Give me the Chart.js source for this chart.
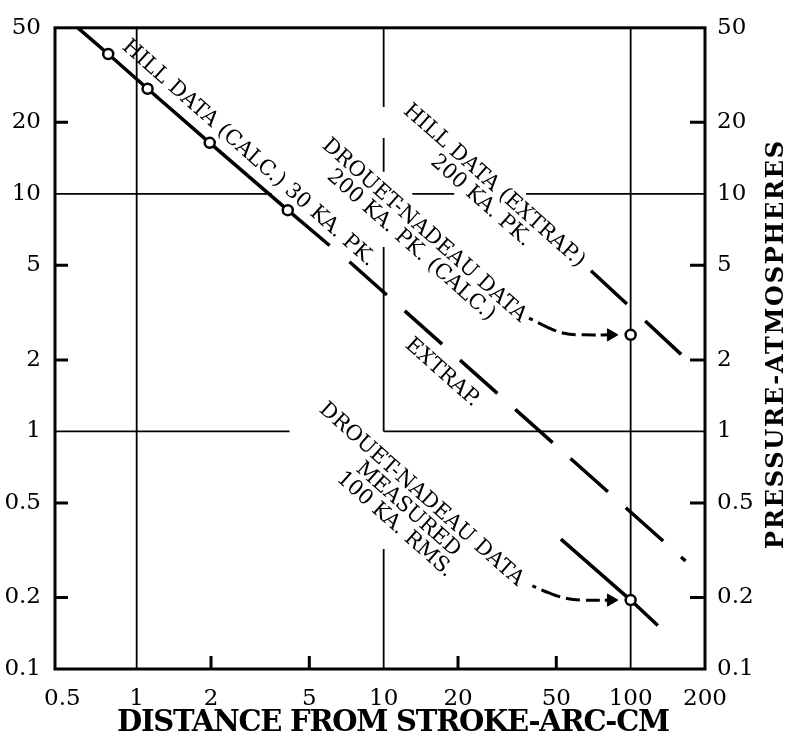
<!DOCTYPE html>
<html><head><meta charset="utf-8">
<script src="https://cdn.jsdelivr.net/npm/chart.js@4/dist/chart.umd.min.js"></script>
<style>html,body{margin:0;padding:0;background:#fff;}canvas{display:block;}</style>
</head><body>
<canvas id="c" width="788" height="743"></canvas>
<script>
// ---- axes / tick labels ----
const xTicks = [0.5, 1, 2, 5, 10, 20, 50, 100, 200];
const yTicks = [0.1, 0.2, 0.5, 1, 2, 5, 10, 20, 50];
const xTickMarks = [2, 5, 20, 50];
const yTickMarks = [0.2, 0.5, 2, 5, 20];

// ---- series ----
const hillCalcX = [0.578, 0.767, 1.107, 1.976, 4.09, 6.04];
const hillCalcY = [50, 38.8, 27.7, 16.4, 8.54, 6.06];
const hillCalcExtrapX = [7.27, 166.8];
const hillCalcExtrapY = [5.18, 0.285];
const hill200X = [69.1, 160.9];
const hill200Y = [4.75, 2.10];
const drouetMeasX = [52.2, 100, 128.8];
const drouetMeasY = [0.352, 0.195, 0.1525];
const drouetCalcX = [100];
const drouetCalcY = [2.55];
const arrowUpX = [38.8, 45.9, 53.7, 64.7, 83.2];
const arrowUpY = [3.0, 2.75, 2.59, 2.55, 2.55];
const arrowLowX = [40.0, 46.7, 55.2, 64.7, 83.2];
const arrowLowY = [0.224, 0.209, 0.198, 0.195, 0.195];

// ---- partial grid lines ----
const vGridX  = [1, 100, 10, 10, 10, 10];
const vGridY1 = [0.1, 0.1, 50, 17.2, 5.98, 0.32];
const vGridY2 = [50, 50, 23.2, 12.4, 1, 0.1];
const hGridY  = [10, 10, 10, 1, 1];
const hGridX1 = [0.467, 13.06, 37.7, 0.467, 10];
const hGridX2 = [3.52, 19.3, 200, 4.16, 200];

// ---- annotations ----
const noteText = [
  ['HILL DATA (CALC.) 30 KA. PK.'],
  ['HILL DATA (EXTRAP.)', '200 KA. PK.'],
  ['DROUET-NADEAU DATA', '200 KA. PK. (CALC.)'],
  ['EXTRAP.'],
  ['DROUET-NADEAU DATA', 'MEASURED', '100 KA. RMS.']
];
const noteX = [2.84, 28.0, 14.6, 17.27, 14.2];
const noteY = [14.8, 10.8, 7.01, 1.767, 0.542];

const xTitle = 'DISTANCE FROM STROKE-ARC-CM';
const yTitle = 'PRESSURE-ATMOSPHERES';

const pts = (xs, ys) => xs.map((v, i) => ({x: v, y: ys[i]}));
const FONT = '"DejaVu Serif", "Liberation Serif", serif';

const datasets = [];
datasets.push({data: pts(hillCalcX, hillCalcY), showLine: true, borderColor: '#000', borderWidth: 3.5,
  pointRadius: [0, 5, 5, 5, 5, 0], pointBackgroundColor: '#fff', pointBorderColor: '#000', pointBorderWidth: 2.5, order: 1});
datasets.push({data: pts(hillCalcExtrapX, hillCalcExtrapY), showLine: true, borderColor: '#000', borderWidth: 3.5,
  borderDash: [50, 24], pointRadius: 0, order: 2});
datasets.push({data: pts(hill200X, hill200Y), showLine: true, borderColor: '#000', borderWidth: 3.5,
  borderDash: [49, 25], pointRadius: 0, order: 2});
datasets.push({data: pts(drouetMeasX, drouetMeasY), showLine: true, borderColor: '#000', borderWidth: 3.5,
  pointRadius: [0, 5, 0], pointBackgroundColor: '#fff', pointBorderColor: '#000', pointBorderWidth: 2.5, order: 1});
datasets.push({data: pts(drouetCalcX, drouetCalcY), showLine: false,
  pointRadius: 5, pointBackgroundColor: '#fff', pointBorderColor: '#000', pointBorderWidth: 2.5, order: 0});
[[arrowUpX, arrowUpY], [arrowLowX, arrowLowY]].forEach(([xs, ys]) => {
  datasets.push({data: pts(xs, ys), showLine: true, borderColor: '#000', borderWidth: 3, tension: 0.4,
    borderDash: [4, 6, 20, 6, 14, 6, 14, 5, 60], pointRadius: [0, 0, 0, 0, 7], pointStyle: 'triangle',
    pointRotation: 90, pointBackgroundColor: '#000', pointBorderColor: '#000', pointBorderWidth: 1, order: 1});
});
vGridX.forEach((gx, i) => datasets.push({data: [{x: gx, y: vGridY1[i]}, {x: gx, y: vGridY2[i]}], showLine: true,
  borderColor: '#000', borderWidth: 1.8, pointRadius: 0, order: 10}));
hGridY.forEach((gy, i) => datasets.push({data: [{x: hGridX1[i], y: gy}, {x: hGridX2[i], y: gy}], showLine: true,
  borderColor: '#000', borderWidth: 1.8, pointRadius: 0, order: 10}));

const setTicks = vals => s => { s.ticks = vals.map(v => ({value: v})); };
const tickFont = {family: FONT, size: 23};

const framePlugin = {
  id: 'frame',
  afterDatasetsDraw(chart) {
    const {ctx, chartArea: a, scales} = chart;
    ctx.save();
    ctx.strokeStyle = '#000';
    ctx.lineWidth = 3;
    ctx.strokeRect(a.left, a.top, a.right - a.left, a.bottom - a.top);
    ctx.beginPath();
    yTickMarks.forEach(v => {
      const py = scales.y.getPixelForValue(v);
      ctx.moveTo(a.left, py); ctx.lineTo(a.left + 13, py);
      ctx.moveTo(a.right, py); ctx.lineTo(a.right - 15, py);
    });
    xTickMarks.forEach(v => {
      const px = scales.x.getPixelForValue(v);
      ctx.moveTo(px, a.bottom); ctx.lineTo(px, a.bottom - 13);
    });
    ctx.stroke();
    ctx.restore();
  }
};

function fitText(ctx, text, target) {
  ctx.letterSpacing = '0px';
  const w = ctx.measureText(text).width;
  const n = text.length - 1;
  if ('letterSpacing' in ctx && n > 0) ctx.letterSpacing = ((target - w) / n).toFixed(2) + 'px';
}

const annoPlugin = {
  id: 'anno',
  afterDraw(chart) {
    const {ctx, scales: {x, y}} = chart;
    ctx.save();
    ctx.fillStyle = '#000';
    ctx.textAlign = 'center';
    ctx.textBaseline = 'middle';
    ctx.font = '21px ' + FONT;
    noteText.forEach((lines, k) => {
      const px = x.getPixelForValue(noteX[k]), py = y.getPixelForValue(noteY[k]);
      ctx.save();
      ctx.translate(px, py);
      ctx.rotate(41.5 * Math.PI / 180);
      lines.forEach((t, i) => ctx.fillText(t, 0, i * 20));
      ctx.restore();
    });
    // axis titles
    ctx.font = 'bold 29px ' + FONT;
    fitText(ctx, xTitle, 553);
    ctx.fillText(xTitle, 393, 723);
    ctx.font = 'bold 24px ' + FONT;
    fitText(ctx, yTitle, 408);
    ctx.save();
    ctx.translate(777, 344);
    ctx.rotate(-Math.PI / 2);
    ctx.fillText(yTitle, 0, 0);
    ctx.restore();
    ctx.restore();
  }
};

new Chart(document.getElementById('c'), {
  type: 'scatter',
  data: {datasets},
  options: {
    responsive: false, animation: false, devicePixelRatio: 1,
    layout: {padding: {top: 22, left: 0, right: 0, bottom: 0}},
    plugins: {legend: {display: false}, tooltip: {enabled: false}},
    scales: {
      x: {type: 'logarithmic', position: 'bottom', min: 0.467, max: 200,
        afterBuildTicks: setTicks(xTicks), afterFit: s => { s.height = 74; },
        grid: {display: false, drawTicks: false}, border: {display: false},
        ticks: {padding: 16, font: tickFont, color: '#000', autoSkip: false, maxRotation: 0, callback: v => String(v)}},
      y: {type: 'logarithmic', position: 'left', min: 0.1, max: 50,
        afterBuildTicks: setTicks(yTicks), afterFit: s => { s.width = 55; },
        grid: {display: false, drawTicks: false}, border: {display: false},
        ticks: {padding: 14, font: tickFont, color: '#000', autoSkip: false, callback: v => String(v)}},
      y2: {type: 'logarithmic', position: 'right', min: 0.1, max: 50,
        afterBuildTicks: setTicks(yTicks), afterFit: s => { s.width = 83; },
        grid: {display: false, drawTicks: false}, border: {display: false},
        ticks: {padding: 12, font: tickFont, color: '#000', autoSkip: false, callback: v => String(v)}}
    }
  },
  plugins: [framePlugin, annoPlugin]
});
</script>
</body></html>
